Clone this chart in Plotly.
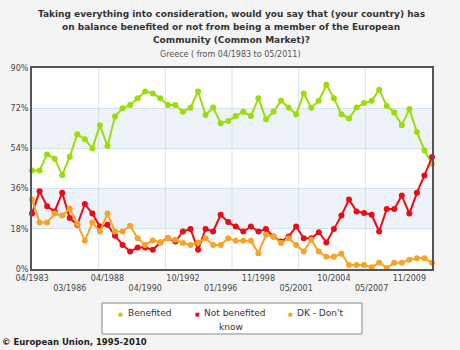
import plotly.graph_objects as go

# ---------------- data ----------------
tick_labels = ["04/1983", "03/1986", "04/1988", "04/1990", "10/1992", "01/1996",
               "11/1998", "05/2001", "10/2004", "05/2007", "11/2009"]
tick_positions = [0, 5, 10, 15, 20, 25, 30, 35, 40, 45, 50]

benefited = [44.1, 44.1, 51.3, 49.4, 42.0, 50.3, 60.3, 58.1, 54.0, 64.4,
             55.1, 68.3, 72.0, 73.4, 76.4, 79.5, 78.6, 76.4, 73.4, 73.4,
             70.4, 72.2, 79.5, 69.0, 72.3, 65.3, 66.3, 68.5, 70.4, 68.5,
             76.4, 67.1, 70.4, 75.3, 72.3, 69.2, 78.6, 72.2, 75.3, 82.5,
             76.4, 69.3, 67.4, 72.3, 74.3, 75.3, 80.3, 73.0, 70.1, 64.4,
             71.6, 61.3, 53.2, 47.1]
not_benefited = [24.8, 34.8, 28.1, 25.8, 34.1, 22.8, 19.8, 29.1, 24.8, 19.0,
                 19.8, 14.9, 10.8, 7.8, 9.6, 9.6, 8.6, 11.9, 13.8, 12.3,
                 16.8, 17.9, 8.6, 17.9, 16.8, 24.3, 21.0, 19.0, 16.8, 19.0,
                 16.8, 17.9, 14.5, 12.3, 14.5, 19.0, 13.8, 13.8, 16.5, 11.9,
                 17.9, 23.9, 31.1, 25.8, 25.1, 24.3, 16.8, 26.9, 26.9, 32.9,
                 24.8, 34.1, 41.9, 50.1]
dont_know = [31.1, 20.8, 20.8, 24.8, 23.9, 27.0, 20.3, 12.6, 20.8, 16.8,
             24.8, 16.8, 16.8, 19.4, 13.8, 10.8, 12.8, 11.9, 13.8, 13.1,
             11.6, 10.8, 11.9, 13.8, 10.8, 10.8, 13.8, 12.6, 12.6, 12.6,
             7.1, 15.3, 14.5, 11.6, 13.8, 10.8, 7.8, 13.1, 7.8, 5.5,
             5.5, 6.8, 1.8, 1.8, 1.8, 0.8, 2.8, 0.5, 2.8, 2.8,
             4.1, 4.8, 4.8, 2.8]
wave = list(range(len(benefited)))

series_names = ["Benefited", "Not benefited", "DK - Don't know"]
colors = ["#9bdc0a", "#ee0a14", "#f6a427"]

# ---------------- geometry helpers ----------------
W, H = 460, 350
L, R, T, B = 32, 28, 68, 81
PW, PH = W - L - R, H - T - B


def px(x):
    return (x - L) / PW


def py(y):
    return (H - B - y) / PH


FONT = "DejaVu Sans"

fig = go.Figure()
for name, vals, col in zip(series_names, [benefited, not_benefited, dont_know], colors):
    fig.add_trace(go.Scatter(
        x=wave, y=vals, name=name, mode="lines+markers",
        line=dict(color=col, width=2),
        marker=dict(color=col, size=6),
        cliponaxis=False, showlegend=False,
    ))

ticktext = [lab if k % 2 == 0 else "<br>" + lab for k, lab in enumerate(tick_labels)]

shapes = []
# alternating bands
for y0, y1 in [(18, 36), (54, 72)]:
    shapes.append(dict(type="rect", xref="x domain", yref="y", x0=0, x1=1, y0=y0, y1=y1,
                       fillcolor="#eef3f9", line=dict(width=0), layer="below"))
# vertical grid lines (six equal divisions)
for k in range(1, 6):
    shapes.append(dict(type="line", xref="x domain", yref="y domain", x0=k / 6, x1=k / 6,
                       y0=0, y1=1, line=dict(color="#d3e2ef", width=1), layer="below"))
# legend box
shapes.append(dict(type="rect", xref="paper", yref="paper",
                   x0=px(102), x1=px(362), y0=py(334), y1=py(303),
                   fillcolor="white", line=dict(color="#8a8a8a", width=1), layer="above"))

annotations = []
title_lines = [
    "Taking everything into consideration, would you say that (your country) has",
    "on balance benefited or not from being a member of the European",
    "Community (Common Market)?",
]
for i, line in enumerate(title_lines):
    annotations.append(dict(text="<b>" + line + "</b>", xref="paper", yref="paper",
                            x=px(231), y=py(14 + 13 * i), xanchor="center", yanchor="middle",
                            showarrow=False, font=dict(family=FONT, size=9, color="#333333")))
annotations.append(dict(text="Greece ( from 04/1983 to 05/2011)", xref="paper", yref="paper",
                        x=px(230), y=py(54), xanchor="center", yanchor="middle",
                        showarrow=False, font=dict(family=FONT, size=8, color="#555555")))

# legend entries
leg_items = [(120, 126, "Benefited"), (197, 202, "Not benefited"), (290, 295, "DK - Don't")]
for (mx, tx, lab), col in zip(leg_items, colors):
    annotations.append(dict(text="■", xref="paper", yref="paper", x=px(mx), y=py(313.5),
                            xanchor="center", yanchor="middle", showarrow=False,
                            font=dict(family=FONT, size=5, color=col)))
    annotations.append(dict(text=lab, xref="paper", yref="paper", x=px(tx), y=py(313),
                            xanchor="left", yanchor="middle", showarrow=False,
                            font=dict(family=FONT, size=9, color="#333333")))
annotations.append(dict(text="know", xref="paper", yref="paper", x=px(231), y=py(327),
                        xanchor="center", yanchor="middle", showarrow=False,
                        font=dict(family=FONT, size=9, color="#333333")))
annotations.append(dict(text="<b>© European Union, 1995-2010</b>", xref="paper", yref="paper",
                        x=px(0), y=py(342), xanchor="left", yanchor="middle", showarrow=False,
                        font=dict(family=FONT, size=8.5, color="#222222")))

fig.update_layout(
    width=W, height=H,
    margin=dict(l=L, r=R, t=T, b=B),
    paper_bgcolor="#f4f4f4", plot_bgcolor="white",
    font=dict(family=FONT, size=8, color="#444444"),
    showlegend=False,
    shapes=shapes, annotations=annotations,
    xaxis=dict(range=[0, len(wave) - 1], tickmode="array", tickvals=tick_positions,
               ticktext=ticktext, showgrid=False, zeroline=False, ticks="",
               showline=True, mirror=True, linecolor="#555555", linewidth=2,
               tickfont=dict(family=FONT, size=8, color="#444444")),
    yaxis=dict(range=[0, 90], dtick=18, tick0=0, ticksuffix="%", showgrid=True,
               gridcolor="#d3e2ef", gridwidth=1, zeroline=False, ticks="",
               showline=True, mirror=True, linecolor="#555555", linewidth=2,
               tickfont=dict(family=FONT, size=8, color="#444444")),
)

fig.write_html("out.html")
